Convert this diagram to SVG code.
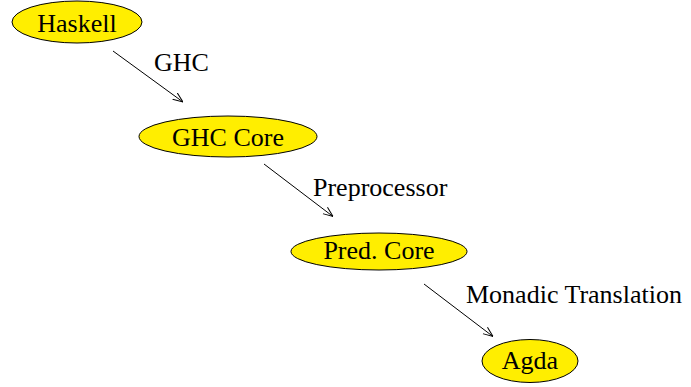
<svg xmlns="http://www.w3.org/2000/svg" width="691" height="387" viewBox="0 0 691 387">
<style>
.node ellipse{fill:#ffee00;stroke:#000;stroke-width:1}
text{font-family:"Liberation Serif","Times New Roman",serif;font-size:26px;fill:#000}
.node text{text-anchor:middle}
.edge line{stroke:#000;stroke-width:1;fill:none}
</style>
<defs>
<marker id="arr" viewBox="0 0 10 10" refX="10" refY="5" markerWidth="10" markerHeight="10" markerUnits="userSpaceOnUse" orient="auto">
<path d="M0,1 L10,5 L0,9" fill="none" stroke="#000" stroke-width="1"/>
</marker>
</defs>
<rect width="691" height="387" fill="#fff"/>
<g id="edges" class="edge">
<line x1="113" y1="51" x2="183" y2="102" marker-end="url(#arr)"/>
<text x="154" y="71">GHC</text>
<line x1="264" y1="164" x2="333" y2="216.5" marker-end="url(#arr)"/>
<text x="313" y="196">Preprocessor</text>
<line x1="424" y1="284" x2="493" y2="336.5" marker-end="url(#arr)"/>
<text x="466" y="303">Monadic Translation</text>
</g>
<g id="haskell" class="node">
<ellipse cx="77" cy="22" rx="65" ry="21"/>
<text x="77" y="32">Haskell</text>
</g>
<g id="ghccore" class="node">
<ellipse cx="228" cy="136.5" rx="89" ry="20.5"/>
<text x="228" y="146">GHC Core</text>
</g>
<g id="predcore" class="node">
<ellipse cx="379" cy="251.5" rx="88" ry="18.5"/>
<text x="379" y="259">Pred. Core</text>
</g>
<g id="agda" class="node">
<ellipse cx="530" cy="361" rx="48" ry="21.5"/>
<text x="530" y="369">Agda</text>
</g>
</svg>
